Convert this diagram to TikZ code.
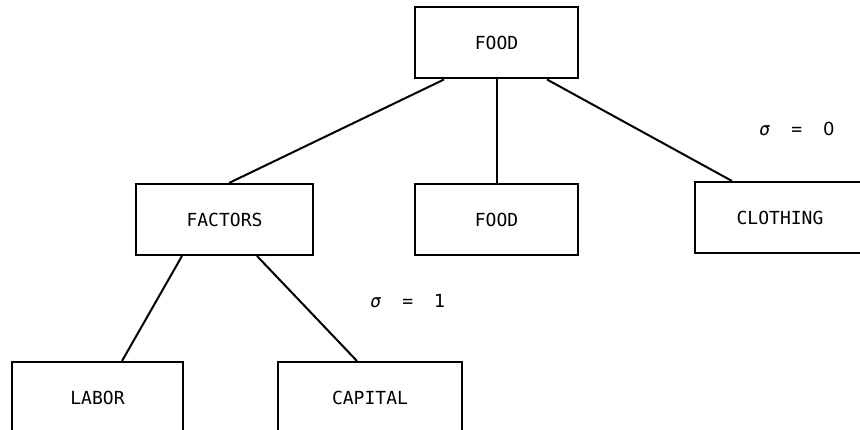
\documentclass[tikz,border=0pt]{standalone}
\usepackage{fontspec}
\setmonofont{DejaVu Sans Mono}
\newfontfamily\digitfont{DejaVu Sans}
\usetikzlibrary{calc}
\begin{document}
\begin{tikzpicture}[x=1pt,y=-1pt,
  box/.style={draw, line width=2pt, rectangle, inner sep=0pt,
    minimum height=71pt, font=\ttfamily\fontsize{18}{20}\selectfont},
  tie/.style={line width=2pt},
  sig/.style={font=\ttfamily\fontsize{18}{20}\selectfont, inner sep=0pt}]
\clip (0,0) rectangle (860,430);
\fill[white] (0,0) rectangle (860,430);
% tree of nests
\node[box, minimum width=163pt] (top) at (496.5,43) {FOOD};
\node[box, minimum width=177pt] (factors) at (224.5,219.5) {FACTORS};
\node[box, minimum width=163pt] (food) at (496.5,219.5) {FOOD};
\node[box, minimum width=170pt] (cloth) at (780,217.5) {CLOTHING};
\node[box, minimum width=171pt] (labor) at (97.5,397.5) {LABOR};
\node[box, minimum width=184pt] (capital) at (370,397.5) {CAPITAL};
% elasticity labels
\node[sig] (s0) at (797,129) {\textit{σ}\hspace{21pt}=\hspace{21pt}{\digitfont 0}};
\node[sig] (s1) at (408,301) {\textit{σ}\hspace{21pt}=\hspace{21pt}{\digitfont 1}};
% branches
\draw[tie] ($(top.south west)+(30,0)$) -- ($(factors.north west)+(94,0)$);
\draw[tie] (top.south) -- (food.north);
\draw[tie] ($(top.south west)+(133,0)$) -- ($(cloth.north west)+(38,0)$);
\draw[tie] ($(factors.south west)+(47,0)$) -- ($(labor.north west)+(111,0)$);
\draw[tie] ($(factors.south west)+(122,0)$) -- ($(capital.north west)+(80,0)$);
\end{tikzpicture}
\end{document}
